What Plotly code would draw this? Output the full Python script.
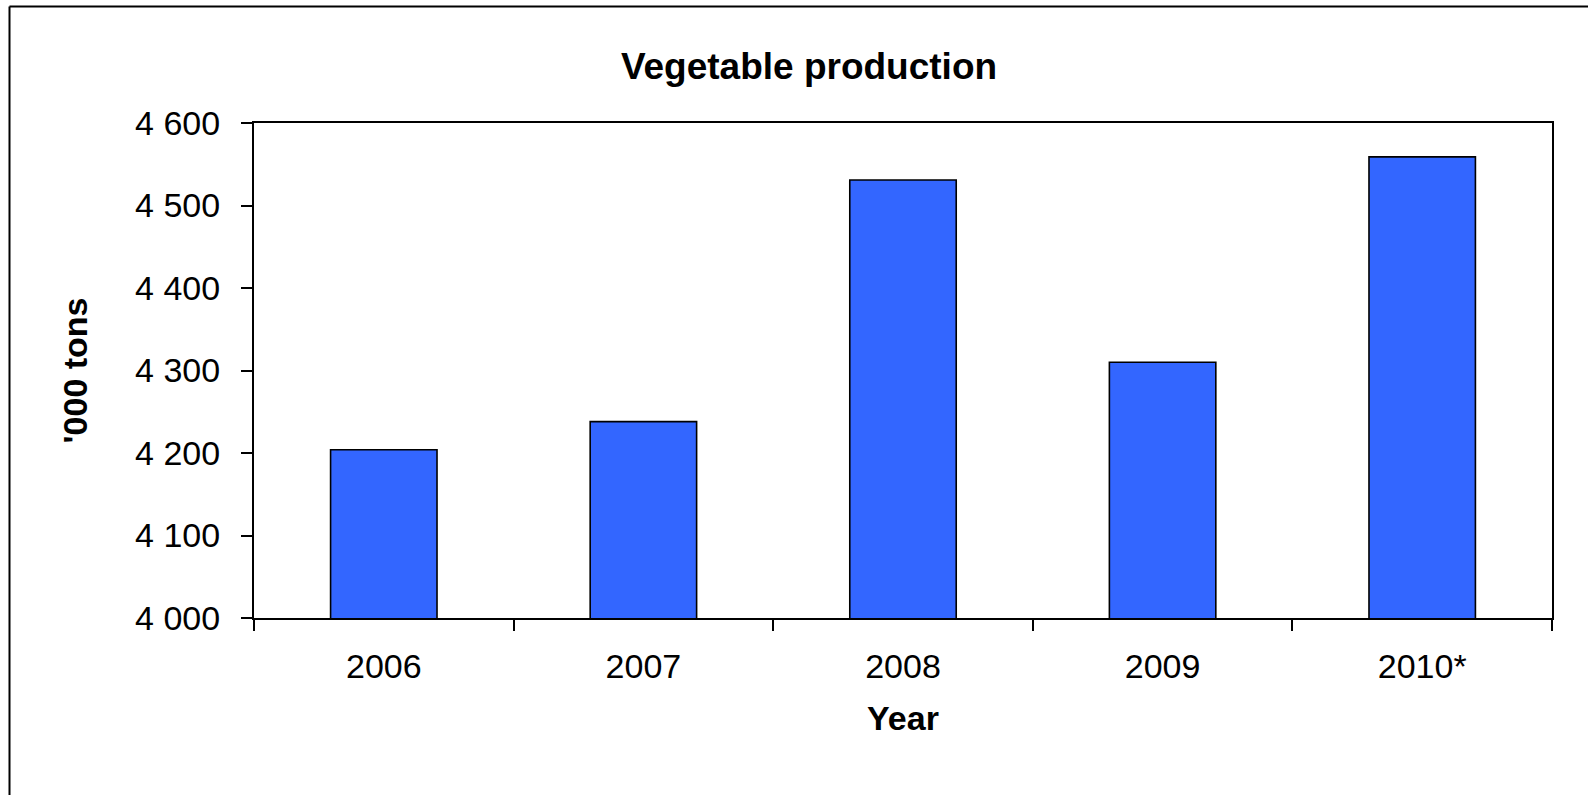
import plotly.graph_objects as go

years = ["2006", "2007", "2008", "2009", "2010*"]
production = [4204, 4238, 4531, 4310, 4559]
y_ticks = [4000, 4100, 4200, 4300, 4400, 4500, 4600]

W, H = 1588, 795
L, R, T, B = 254, 36, 123, 177
pw, ph = W - L - R, H - T - B

def px_x(px):
    return (px - L) / pw

def px_y(py):
    return (H - B - py) / ph

fig = go.Figure(go.Bar(
    x=years, y=production,
    marker=dict(color="#3366FF", line=dict(color="#000000", width=1.6)),
))

font = "Liberation Sans, Arial, sans-serif"

fig.update_layout(
    width=W, height=H,
    margin=dict(l=L, r=R, t=T, b=B),
    paper_bgcolor="white", plot_bgcolor="white",
    separators=". ",
    bargap=0.59,
    showlegend=False,
    font=dict(family=font, color="#000000"),
    title=dict(text="<b>Vegetable production</b>", x=(615 + 1003) / 2 / W, xanchor="center",
               y=1 - 66 / H, yanchor="middle", yref="container",
               font=dict(size=37, family=font, color="#000000")),
    xaxis=dict(
        showline=True, linecolor="#000000", linewidth=2, mirror=True,
        ticks="outside", ticklen=11, tickwidth=2, tickcolor="#000000",
        tickson="boundaries", showgrid=False,
        tickfont=dict(size=34), ticklabelstandoff=17,
        title=dict(text="<b>Year</b>", font=dict(size=34), standoff=22),
    ),
    yaxis=dict(
        range=[4000, 4600], tickvals=y_ticks, tickformat=",d",
        showline=True, linecolor="#000000", linewidth=2, mirror=True,
        ticks="outside", ticklen=11, tickwidth=2, tickcolor="#000000",
        showgrid=False, zeroline=False,
        tickfont=dict(size=34), ticklabelstandoff=14,
        title=dict(text="<b>'000 tons</b>", font=dict(size=34), standoff=37),
    ),
    shapes=[
        dict(type="line", xref="paper", yref="paper",
             x0=px_x(9.5), x1=px_x(9.5), y0=px_y(800), y1=px_y(6.5),
             line=dict(color="#000000", width=2)),
        dict(type="line", xref="paper", yref="paper",
             x0=px_x(9.5), x1=px_x(1600), y0=px_y(6.5), y1=px_y(6.5),
             line=dict(color="#000000", width=2)),
    ],
)

fig.write_html("out.html")
